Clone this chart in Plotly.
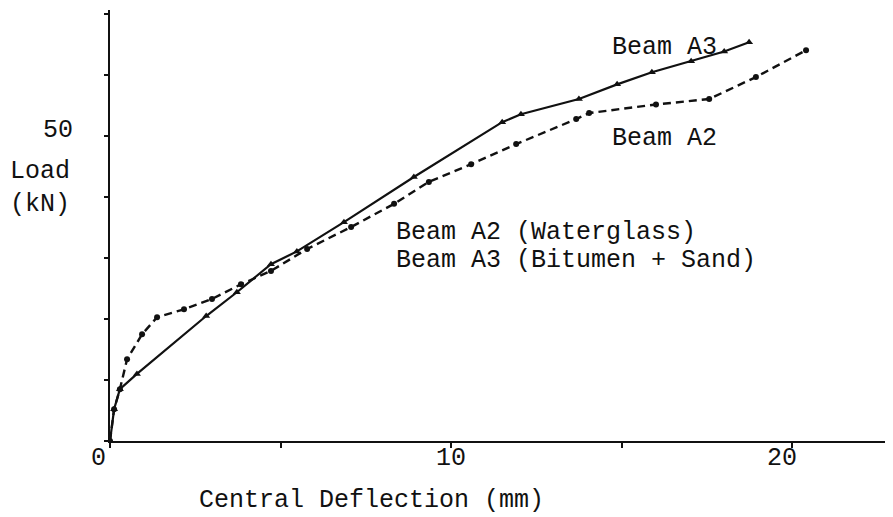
import plotly.graph_objects as go

# ---- data ----
a3_deflection = [0.0, 0.12, 0.29, 0.79, 2.82, 3.72, 4.72, 5.48, 6.86, 8.91, 11.50, 12.05,
                 13.75, 14.87, 15.89, 17.04, 18.01, 18.74]
a3_load = [0.0, 5.2, 8.5, 11.0, 20.5, 24.4, 29.0, 31.1, 35.9, 43.3, 52.3, 53.6,
           56.1, 58.5, 60.5, 62.3, 63.9, 65.4]

a2_deflection = [0.0, 0.12, 0.29, 0.50, 0.94, 1.38, 2.17, 2.99, 3.84, 4.72, 5.78, 7.07,
                 8.33, 9.35, 10.59, 11.91, 13.67, 14.05, 16.01, 17.57, 18.94, 20.41]
a2_load = [0.0, 5.2, 8.5, 13.4, 17.5, 20.3, 21.6, 23.3, 25.7, 27.9, 31.5, 35.1,
           38.9, 42.5, 45.4, 48.7, 52.8, 53.8, 55.2, 56.1, 59.7, 64.1]

x_tick_vals = [0, 5, 10, 15, 20]
x_tick_text = ["0", "", "10", "", "20"]
y_tick_vals = [0, 10, 20, 30, 40, 50, 60, 70]
y_tick_text = ["", "", "", "", "", "50", "", ""]

# ---- styling ----
FONT = "Liberation Mono, Courier New, monospace"
FS = 25
INK = "#111111"
OFF = 8                      # page body margin of the browser
W, H = 893 - OFF, 517 - OFF  # figure size so that it fits the window
ML, MR, MT, MB = 102, 0, 2, 76
X_RANGE = [0, 22.96]
Y_RANGE = [0, 70.7]


def px_to_paper(px, py):
    """screen pixel -> paper coords"""
    fx, fy = px - OFF, py - OFF
    return (fx - ML) / (W - ML - MR), (H - MB - fy) / (H - MB - MT)


fig = go.Figure()
fig.add_trace(go.Scatter(
    x=a2_deflection, y=a2_load, mode="lines+markers", name="Beam A2",
    line=dict(color=INK, width=2.4, dash="8px,5px"),
    marker=dict(symbol="circle", size=6, color=INK),
))
fig.add_trace(go.Scatter(
    x=a3_deflection, y=a3_load, mode="lines+markers", name="Beam A3",
    line=dict(color=INK, width=2.2),
    marker=dict(symbol="triangle-up", size=7, color=INK),
))

annotations = []


def add_text(text, px, py, xanchor="center", yanchor="middle"):
    xp, yp = px_to_paper(px, py)
    annotations.append(dict(
        text=text, x=xp, y=yp, xref="paper", yref="paper",
        xanchor=xanchor, yanchor=yanchor, showarrow=False,
        font=dict(family=FONT, size=FS, color=INK),
    ))


# tick labels (drawn as text so their offsets follow the reference)
x_label_shift = {"0": -12, "10": 0, "20": -10}
x_label_y = px_to_paper(0, 458)[1]
for v, t in zip(x_tick_vals, x_tick_text):
    if t:
        annotations.append(dict(
            text=t, x=v, xref="x", y=x_label_y, yref="paper",
            showarrow=False, xanchor="center", yanchor="middle",
            xshift=x_label_shift.get(t, 0),
            font=dict(family=FONT, size=FS, color=INK),
        ))
for v, t in zip(y_tick_vals, y_tick_text):
    if t:
        annotations.append(dict(
            text=t, y=v, yref="y", x=px_to_paper(58, 0)[0], xref="paper",
            yshift=6, showarrow=False, xanchor="center", yanchor="middle",
            font=dict(family=FONT, size=FS, color=INK),
        ))

add_text("Load<br>(kN)", 40, 188)
add_text("Central Deflection (mm)", 371, 500)
add_text("Beam A3", 610, 48, xanchor="left")
add_text("Beam A2", 610, 138, xanchor="left")
add_text("Beam A2 (Waterglass)", 394, 232, xanchor="left")
add_text("Beam A3 (Bitumen + Sand)", 394, 261, xanchor="left")

fig.update_layout(
    width=W, height=H,
    margin=dict(l=ML, r=MR, t=MT, b=MB, pad=0),
    paper_bgcolor="white", plot_bgcolor="white",
    showlegend=False,
    annotations=annotations,
    font=dict(family=FONT, size=FS, color=INK),
)
fig.update_xaxes(
    range=X_RANGE, showgrid=False, zeroline=False,
    showline=True, linecolor=INK, linewidth=2,
    tickvals=x_tick_vals, ticktext=x_tick_text, showticklabels=False,
    ticks="outside", ticklen=5, tickwidth=2, tickcolor=INK,
)
fig.update_yaxes(
    range=Y_RANGE, showgrid=False, zeroline=False,
    showline=True, linecolor=INK, linewidth=2,
    tickvals=y_tick_vals, ticktext=y_tick_text, showticklabels=False,
    ticks="outside", ticklen=4, tickwidth=2, tickcolor=INK,
)

fig.write_html("out.html")
